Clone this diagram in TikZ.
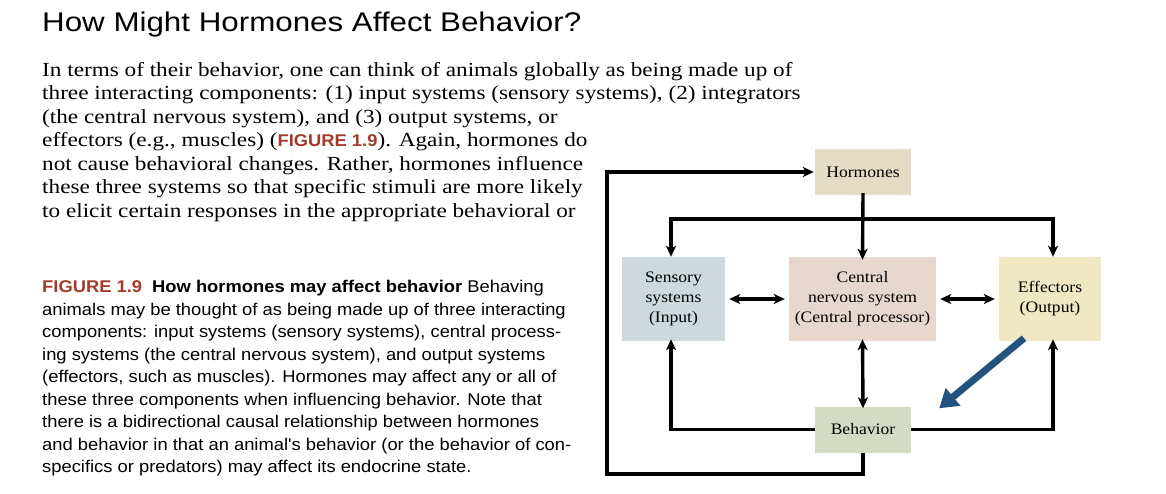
\documentclass[tikz,border=0pt]{standalone}
\usepackage{fontspec}
\setmainfont{Liberation Serif}
\setsansfont{Liberation Sans}
\newfontfamily\bodyfont[FakeStretch=1.16]{Liberation Serif}
\newfontfamily\boxfont[FakeStretch=1.1]{Liberation Serif}
\newfontfamily\titlefont[FakeStretch=1.16]{Liberation Sans}
\newfontfamily\capfont[FakeStretch=1.08]{Liberation Sans}
\usetikzlibrary{arrows.meta}
\definecolor{hormc}{HTML}{E6DCC5}
\definecolor{sensc}{HTML}{CDD9DC}
\definecolor{cnsc}{HTML}{E8D7CD}
\definecolor{effc}{HTML}{F0E7C3}
\definecolor{behc}{HTML}{D3DCC2}
\definecolor{figred}{HTML}{A33A2A}
\definecolor{bluearr}{HTML}{24527F}
\tikzset{
  box/.style={fill=#1, inner sep=0pt, align=center, font=\boxfont\fontsize{16}{20}\selectfont},
  conn/.style={line width=3.4pt, -{Stealth[length=11pt,width=10pt,inset=3pt]}},
  dconn/.style={line width=3.4pt, {Stealth[length=11pt,width=10pt,inset=3pt]}-{Stealth[length=11pt,width=10pt,inset=3pt]}},
  line/.style={line width=3.4pt},
  bodyt/.style={anchor=base west, inner sep=0pt, font=\bodyfont\fontsize{20}{23}\selectfont},
  capt/.style={anchor=base west, inner sep=0pt, font=\capfont\fontsize{17}{22}\selectfont},
}
\begin{document}
\begin{tikzpicture}[x=1pt,y=-1pt]
\useasboundingbox (0,0) rectangle (1166,494);
\node[anchor=base west, inner sep=0pt, font=\titlefont\fontsize{27}{30}\selectfont] (title) at (42,32) {How Might Hormones Affect Behavior?};
\node[bodyt] (b1) at (42,77) {In terms of their behavior, one can think of animals globally as being made up of};
\node[bodyt] (b2) at (42,100) {three interacting components: (1) input systems (sensory systems), (2) integrators};
\node[bodyt] (b3) at (42,124) {(the central nervous system), and (3) output systems, or};
\node[bodyt] (b4) at (42,147) {effectors (e.g., muscles) ({\capfont\bfseries\fontsize{17}{20}\selectfont\color{figred}FIGURE 1.9}). Again, hormones do};
\node[bodyt] (b5) at (42,171) {not cause behavioral changes. Rather, hormones influence};
\node[bodyt] (b6) at (42,194) {these three systems so that specific stimuli are more likely};
\node[bodyt] (b7) at (42,218) {to elicit certain responses in the appropriate behavioral or};
\node[capt] (c1) at (42,292) {{\bfseries\color{figred}FIGURE 1.9}\hspace{10pt}{\bfseries How hormones may affect behavior}\hspace{5pt}Behaving};
\node[capt] (c2) at (42,315) {animals may be thought of as being made up of three interacting};
\node[capt] (c3) at (42,337) {components: input systems (sensory systems), central process-};
\node[capt] (c4) at (42,360) {ing systems (the central nervous system), and output systems};
\node[capt] (c5) at (42,382) {(effectors, such as muscles). Hormones may affect any or all of};
\node[capt] (c6) at (42,405) {these three components when influencing behavior. Note that};
\node[capt] (c7) at (42,427) {there is a bidirectional causal relationship between hormones};
\node[capt] (c8) at (42,450) {and behavior in that an animal's behavior (or the behavior of con-};
\node[capt] (c9) at (42,472) {specifics or predators) may affect its endocrine state.};

\node[box=hormc, minimum width=96pt, minimum height=46pt] (horm) at (863,172) {Hormones};
\node[box=sensc, minimum width=103pt, minimum height=84pt] (sens) at (673.5,299) {Sensory\\systems\\(Input)};
\node[box=cnsc, minimum width=147pt, minimum height=84pt] (cns) at (862.5,299) {Central\\nervous system\\(Central processor)};
\node[box=effc, minimum width=102pt, minimum height=84pt] (eff) at (1050,299) {Effectors\\(Output)};
\node[box=behc, minimum width=96pt, minimum height=46pt] (beh) at (863,429.5) {Behavior};

\coordinate (busL) at (671,219);
\coordinate (busR) at (1053,219);
\coordinate (loopBL) at (607,474);
\coordinate (loopTL) at (607,172);
\coordinate (behB) at (863,474);

\draw[line] ([xshift=-1.7pt]busL) -- ([xshift=1.7pt]busR);
\draw[conn] (busL) -- (sens.north -| busL);
\draw[conn] (busR) -- (eff.north -| busR);
\draw[conn] ([yshift=2pt]horm.south) -- ([yshift=-3pt]cns.north);
\draw[dconn] ([xshift=4pt]sens.east) -- ([xshift=-4pt]cns.west);
\draw[dconn] ([xshift=4pt]cns.east) -- ([xshift=-4pt]eff.west);
\draw[dconn] ([yshift=2pt]cns.south) -- ([yshift=-2pt]beh.north);
\draw[conn] (beh.west) -| ([yshift=2pt]sens.south -| busL);
\draw[conn] (beh.east) -| ([yshift=2pt]eff.south -| busR);
\draw[conn, line join=miter] (beh.south) -- (behB) -- (loopBL) -- (loopTL) -- ([xshift=-1pt]horm.west);
\draw[bluearr, line width=7pt, -{Triangle[length=18pt,width=22pt]}] ([xshift=-26pt,yshift=3pt]eff.south) -- ([xshift=28pt,yshift=-2pt]beh.north east);
\end{tikzpicture}
\end{document}
